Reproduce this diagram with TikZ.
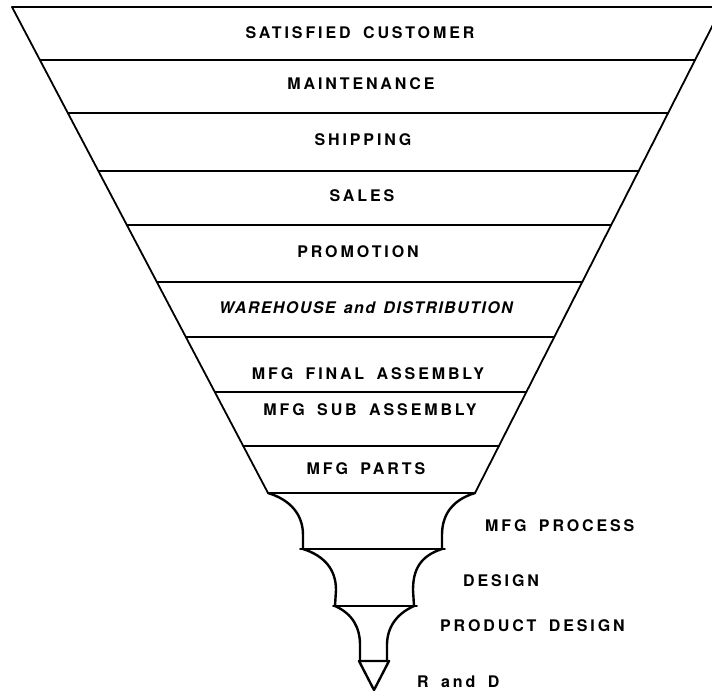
\documentclass[tikz,border=0pt]{standalone}
\usepackage{fontspec}
\setmainfont{TeX Gyre Heros}
\newfontfamily\stagefont[LetterSpace=18,WordSpace=1.7]{TeX Gyre Heros}
\newfontfamily\wareFont[LetterSpace=9,WordSpace=1.4]{TeX Gyre Heros}
\tikzset{
	stage/.style={font=\stagefont\bfseries\fontsize{16}{18}\selectfont,inner sep=0pt},
	rim/.style={line width=1.8pt,line join=round,line cap=round},
	bell/.style={line width=2.4pt,line join=round,line cap=round}
}
\begin{document}
\begin{tikzpicture}[x=1pt,y=-1pt]
		\useasboundingbox(0,0)rectangle(712,696);
		\clip(0,0)rectangle(712,696);
		\draw[rim](12,7)--(722,7)--(475,493)--(268,493)--cycle;
		\foreach \y in {60,113,171,225,282,337,392,446}
			\draw[rim]({12+0.527*(\y-7)},\y)--({695-0.508*(\y-60)},\y);
		\draw[bell](268,493).. controls (291,500) and (303,515) ..(303,535)--(303,549);
		\draw[bell](475,493).. controls (452,500) and (442,515) ..(442,535)--(442,549);
		\draw[rim](300,549)--(445,549);
		\draw[bell](303,549).. controls (325,556) and (336,570) ..(336,590)--(335,606);
		\draw[bell](442,549).. controls (420,556) and (413,570) ..(413,590)--(414,606);
		\draw[rim](333,606)--(417,606);
		\draw[bell](335,606).. controls (353,614) and (360,628) ..(360,645)--(360,661);
		\draw[bell](414,606).. controls (396,614) and (387,628) ..(387,645)--(387,661);
		\draw[bell](359,661)--(389,661)--(374,690)--cycle;
		\node[stage](sat)at(360,33){SATISFIED CUSTOMER};
		\node[stage](maint)at(361,84){MAINTENANCE};
		\node[stage](ship)at(363,140){SHIPPING};
		\node[stage](sales)at(362,196){SALES};
		\node[stage](promo)at(358,252){PROMOTION};
		\node[stage,font=\wareFont\bfseries\itshape\fontsize{16}{18}\selectfont](ware)at(366,308){WAREHOUSE and DISTRIBUTION};
		\node[stage](final)at(368,374){MFG FINAL ASSEMBLY};
		\node[stage](sub)at(370,410){MFG SUB ASSEMBLY};
		\node[stage](parts)at(366,469){MFG PARTS};
		\node[stage,anchor=west](proc)at(485,526){MFG PROCESS};
		\node[stage,anchor=west](design)at(463,581){DESIGN};
		\node[stage,anchor=west](prod)at(440,626){PRODUCT DESIGN};
		\node[stage,anchor=west](rd)at(417,682){R and D};
	\end{tikzpicture}
\end{document}
